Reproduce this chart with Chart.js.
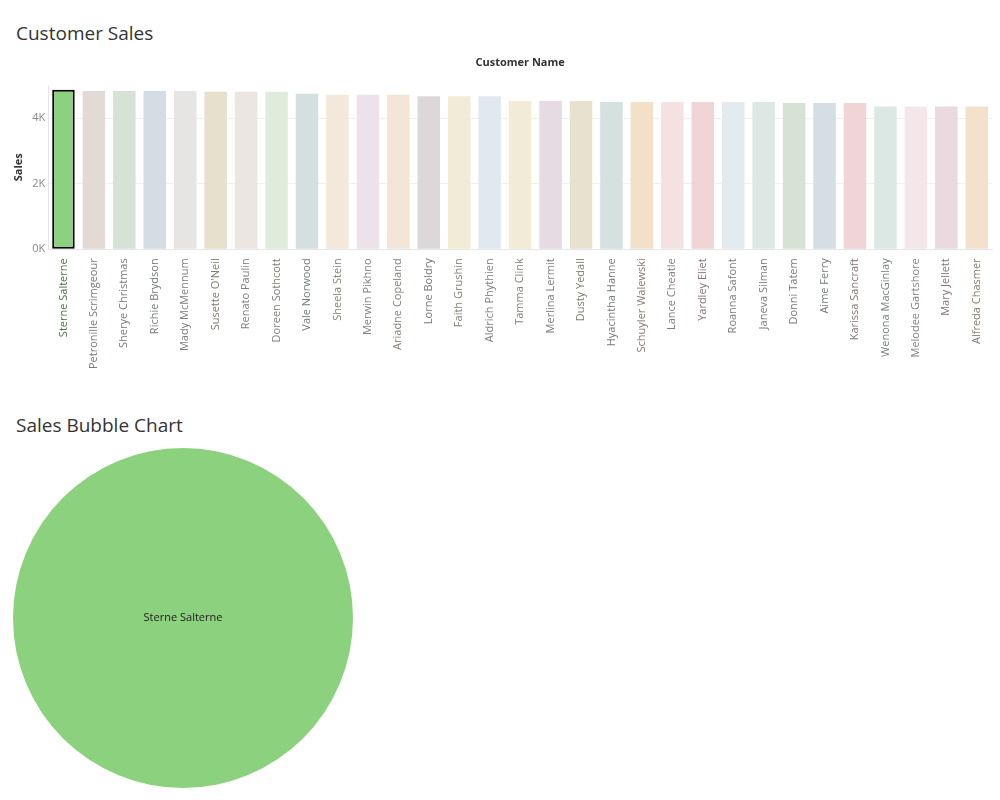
<!DOCTYPE html>
<html>
<head>
<meta charset="utf-8">
<script src="https://cdn.jsdelivr.net/npm/chart.js@4.4.1/dist/chart.umd.min.js"></script>
<style>
  body { margin: 0; background: #fff; font-family: "Open Sans", sans-serif; }
  .title { position: absolute; left: 16px; font-size: 19px; color: #333; font-weight: 400; }
  #barWrap { position: absolute; left: 0; top: 52px; width: 1000px; height: 320px; }
  #bubbleWrap { position: absolute; left: 0; top: 448px; width: 366px; height: 340px; }
</style>
</head>
<body>
<div class="title" style="top:20px">Customer Sales</div>
<div class="title" style="top:412px">Sales Bubble Chart</div>
<div id="barWrap"><canvas id="bars"></canvas></div>
<div id="bubbleWrap"><canvas id="bubble"></canvas></div>
<script>
const customers = ["Sterne Salterne","Petronille Scrimgeour","Sherye Christmas","Richie Brydson","Mady McMennum",
  "Susette O'Neil","Renato Paulin","Doreen Sothcott","Vale Norwood","Sheela Stein","Merwin Pikhno",
  "Ariadne Copeland","Lorne Boldry","Faith Grushin","Aldrich Phythien","Tamma Clink","Merlina Lermit",
  "Dusty Yedall","Hyacintha Hanne","Schuyler Walewski","Lance Cheatle","Yardley Eliet","Roanna Safont",
  "Janeva Silman","Donni Tatem","Aime Ferry","Karissa Sancraft","Wenona MacGinlay","Melodee Gartshore",
  "Mary Jellett","Alfreda Chasmer"];
const sales = [4860,4820,4820,4820,4820,4800,4800,4800,4740,4710,4710,4710,4660,4660,4660,
  4520,4520,4520,4490,4490,4490,4490,4490,4490,4460,4460,4460,4350,4350,4350,4350];
const yTicks = [0, 2000, 4000];
const barColors = ["#8cd17d","#e3d9d5","#d6e2d6","#d4dde4","#e6e5e4","#e6e0cc","#ebe6e2","#e0ecdb",
  "#d4e0df","#f4e8db","#ede2ea","#f3e6d9","#dcd8d9","#f2ebd6","#e1e8ef","#f2ebd8","#e6dae3","#e7e2cd",
  "#d4e1df","#f3e0c9","#f4e1e2","#f1d5d6","#e3eaf0","#dde8e4","#d5e2d4","#d6dee5","#f0d5d6","#dce8e3",
  "#f5e6ea","#ebd9e0","#f3e1cc"];
const selected = "Sterne Salterne";

// darker tint of a bar colour for its label
const darken = (hex, f) => {
  const n = parseInt(hex.slice(1), 16);
  const c = [(n >> 16) & 255, (n >> 8) & 255, n & 255].map(v => Math.round(v * f));
  return `rgb(${c.join(",")})`;
};

new Chart(document.getElementById("bars"), {
  type: "bar",
  data: {
    labels: customers,
    datasets: [{
      data: sales,
      backgroundColor: barColors,
      borderColor: customers.map(c => c === selected ? "#000" : "transparent"),
      borderWidth: customers.map(c => c === selected ? 2 : 0),
      borderSkipped: false,
      categoryPercentage: 1,
      barPercentage: 0.74
    }]
  },
  options: {
    responsive: true, maintainAspectRatio: false, animation: false,
    layout: { padding: { left: 8, right: 8 } },
    plugins: { legend: { display: false }, tooltip: { enabled: false } },
    scales: {
      x: {
        grid: { display: false, drawTicks: true, tickLength: 6, color: "#ddd" },
        border: { color: "#e6e6e6" },
        ticks: {
          maxRotation: 90, minRotation: 90, autoSkip: false,
          font: { family: "Open Sans", size: 11 },
          color: ctx => darken(barColors[ctx.index], 0.55)
        }
      },
      x2: {
        position: "top", grid: { display: false }, border: { display: false },
        ticks: { display: false },
        title: { display: true, text: "Customer Name", color: "#333",
                 font: { family: "Open Sans", size: 11, weight: "bold" }, padding: { bottom: 8 } }
      },
      y: {
        min: 0, max: 5000,
        afterBuildTicks: axis => { axis.ticks = yTicks.map(v => ({ value: v })); },
        ticks: { callback: v => (v / 1000) + "K", color: "#888", font: { family: "Open Sans", size: 11 } },
        grid: { color: "#f0f0f0", drawTicks: false },
        border: { color: "#e6e6e6" },
        title: { display: true, text: "Sales", color: "#333", font: { family: "Open Sans", size: 11, weight: "bold" } }
      }
    }
  }
});

new Chart(document.getElementById("bubble"), {
  type: "bubble",
  data: {
    datasets: [{
      label: selected,
      data: [{ x: 0, y: 0, r: 170 }],
      backgroundColor: barColors[0],
      borderWidth: 0,
      clip: false
    }]
  },
  options: {
    responsive: true, maintainAspectRatio: false, animation: false,
    plugins: { legend: { display: false }, tooltip: { enabled: false } },
    scales: { x: { display: false, min: -1, max: 1 }, y: { display: false, min: -1, max: 1 } }
  },
  plugins: [{
    id: "bubbleLabel",
    afterDatasetsDraw(chart) {
      const p = chart.getDatasetMeta(0).data[0];
      const ctx = chart.ctx;
      ctx.save();
      ctx.fillStyle = "#222";
      ctx.font = "11px 'Open Sans'";
      ctx.textAlign = "center";
      ctx.textBaseline = "middle";
      ctx.fillText(chart.data.datasets[0].label, p.x, p.y);
      ctx.restore();
    }
  }]
});
</script>
</body>
</html>
